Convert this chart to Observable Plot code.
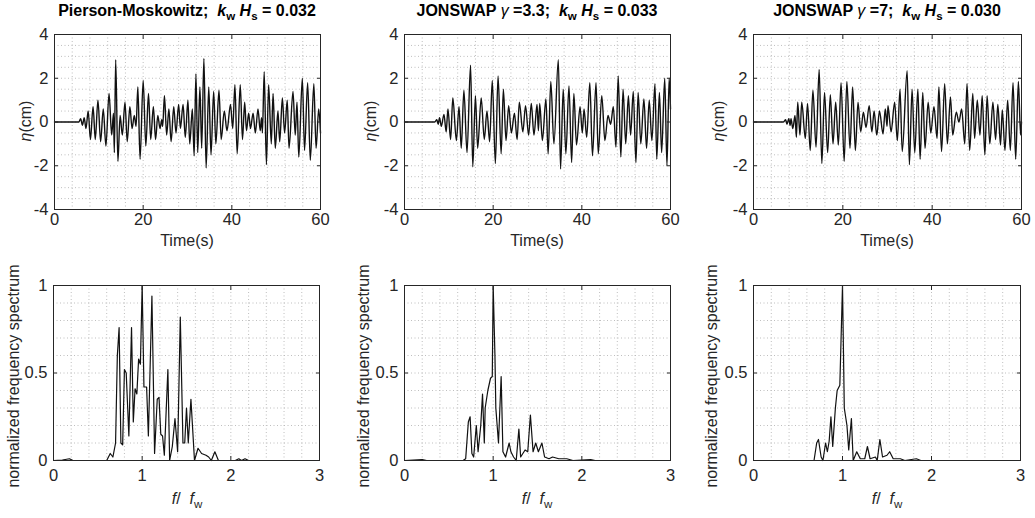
<!DOCTYPE html>
<html><head><meta charset="utf-8">
<script src="https://cdn.jsdelivr.net/npm/d3@7"></script>
<script src="https://cdn.jsdelivr.net/npm/@observablehq/plot@0.6"></script>
<style>
body{margin:0;background:#fff;font-family:"Liberation Sans",Arial,sans-serif;}
#wrap{position:relative;width:1035px;height:518px;overflow:hidden;background:#fff;}
#wrap svg text{font-size:16.5px !important;font-family:"Liberation Sans",Arial,sans-serif !important;fill:#262626;}
.p{position:absolute;}
.lbl{position:absolute;white-space:nowrap;color:#262626;line-height:1;}
.title{font-weight:bold;font-size:16px;color:#000;transform:translate(-50%,0);}
.xl{font-size:16px;transform:translate(-50%,-50%);}
.yl{font-size:16px;transform:translate(-50%,-50%) rotate(-90deg);}
sub{font-size:72%;vertical-align:-0.35em;line-height:0;}
</style></head>
<body><div id="wrap"></div>
<script>
// ---------- data ----------
const panelTitles = [
  'Pierson-Moskowitz;&nbsp; <i>k</i><sub>w</sub> <i>H</i><sub>s</sub> = 0.032',
  'JONSWAP <i style="font-weight:normal">&gamma;</i> =3.3;&nbsp; <i>k</i><sub>w</sub> <i>H</i><sub>s</sub> = 0.033',
  'JONSWAP <i style="font-weight:normal">&gamma;</i> =7;&nbsp; <i>k</i><sub>w</sub> <i>H</i><sub>s</sub> = 0.030'
];
const timeTicks = [0, 20, 40, 60];
const etaTicks = [-4, -2, 0, 2, 4];
const freqTicks = [0, 1, 2, 3];
const specTicks = [0, 0.5, 1];

// [t (s), eta (cm)] extrema of the surface elevation records
const waveIdx1 = [[0,0],[5.5,0],[5.9,0.15],[6.3,-0.15],[6.7,0.2],[7.1,-0.3],[7.6,0.5],[8.1,-0.8],[8.7,0.7],[9.2,-0.8],[9.8,1.0],[10.4,-0.9],[11.0,0.6],[11.6,-1.1],[12.3,1.3],[12.9,-0.6],[13.3,0.4],[13.5,-1.4],[13.8,2.85],[14.3,-1.8],[14.8,0.3],[15.3,-0.6],[15.9,0.9],[16.4,-0.9],[17.0,0.7],[17.5,-0.3],[18.0,0.3],[18.4,-0.2],[18.8,1.6],[19.3,-1.7],[20.0,1.9],[20.6,-1.1],[21.2,1.3],[21.7,-0.8],[22.3,0.7],[22.8,-0.8],[23.3,0.3],[23.8,-0.3],[24.2,0.1],[24.4,-0.2],[24.8,1.2],[25.3,-0.6],[25.8,0.6],[26.3,-0.9],[26.9,0.7],[27.4,-0.5],[28.0,0.8],[28.4,-0.3],[29.0,0.8],[29.5,-0.7],[30.1,1.0],[30.5,-1.0],[31.1,0.6],[31.5,-1.55],[31.9,2.2],[32.3,-1.4],[32.8,1.6],[33.2,-1.2],[33.7,2.9],[34.2,-2.1],[34.8,1.6],[35.3,-1.5],[35.9,1.4],[36.4,-1.0],[37.1,1.45],[37.6,-0.8],[38.3,0.5],[38.9,-0.4],[39.7,0.8],[40.2,-0.3],[40.7,1.7],[41.2,-1.45],[41.9,1.7],[42.4,-0.8],[42.9,0.9],[43.3,-0.4],[43.8,0.4],[44.2,-0.3],[44.8,0.4],[45.3,-0.5],[45.9,0.6],[46.4,-0.4],[46.7,0.2],[46.9,-0.5],[47.3,2.3],[47.8,-1.95],[48.3,1.7],[48.9,-1.0],[49.3,1.3],[49.8,-1.2],[50.4,0.5],[50.8,-0.9],[51.4,1.1],[51.9,-0.5],[52.5,1.0],[52.9,-1.2],[53.8,1.4],[54.3,-0.6],[54.7,0.9],[55.1,-1.6],[55.9,2.0],[56.4,-1.3],[57.1,1.8],[57.7,-1.75],[58.5,1.75],[59.0,-1.2],[59.6,0.6],[60.0,-0.5]];
const waveIdx2 = [[0,0],[6.8,0],[7.3,0.1],[7.6,-0.1],[7.9,0.2],[8.3,-0.2],[8.9,0.35],[9.4,-0.45],[9.8,0.6],[10.4,-0.8],[10.9,1.1],[11.7,-0.85],[12.3,0.7],[12.8,-1.2],[13.4,1.45],[14.1,-1.4],[14.9,2.6],[15.4,-2.05],[16.0,1.2],[16.5,-1.2],[17.3,1.1],[18.0,-0.8],[18.6,0.5],[19.2,-0.9],[19.8,1.9],[20.5,-1.9],[21.1,2.1],[21.8,-1.45],[22.3,1.5],[22.9,-0.85],[23.5,0.75],[24.1,-0.5],[24.8,0.4],[25.4,-0.8],[25.9,0.9],[26.7,-0.45],[27.3,0.75],[28.0,-0.6],[28.6,0.85],[29.2,-0.6],[29.9,0.8],[30.2,-0.4],[30.5,0.85],[31.1,-0.85],[31.9,1.05],[32.4,-1.45],[33.0,1.85],[33.7,-1.0],[34.7,2.85],[35.2,-2.15],[35.8,1.5],[36.4,-1.45],[37.1,1.65],[37.7,-1.85],[38.2,1.3],[38.8,-1.05],[39.6,0.7],[40.1,-0.5],[40.5,0.6],[41.1,-0.7],[41.8,1.8],[42.4,-1.55],[43.2,1.8],[43.7,-1.45],[44.5,1.2],[45.2,-0.85],[45.9,0.3],[46.5,-0.1],[47.1,0.7],[47.7,-1.15],[48.2,2.1],[48.8,-1.6],[49.3,1.5],[49.9,-1.0],[50.5,1.2],[51.0,-0.6],[51.6,1.4],[52.2,-1.85],[52.7,1.35],[53.3,-1.0],[54.0,1.05],[54.6,-1.2],[55.2,1.0],[55.8,-0.85],[56.5,1.75],[56.9,-1.7],[57.5,1.35],[58.0,-1.4],[58.7,2.0],[59.2,-2.0],[59.7,2.0],[60.0,0.6]];
const waveIdx3 = [[0,0],[6.7,0],[7.2,0.1],[7.5,-0.1],[7.9,0.15],[8.2,-0.15],[8.4,0.15],[8.8,-0.3],[9.3,0.3],[9.6,-0.7],[9.9,0.9],[10.4,-0.6],[10.8,0.9],[11.6,-0.75],[12.1,0.85],[12.7,-1.3],[13.3,1.45],[14.0,-1.15],[14.7,2.4],[15.3,-1.9],[15.9,1.35],[16.6,-1.4],[17.2,1.25],[17.8,-1.0],[18.4,0.9],[19.0,-1.05],[19.6,1.8],[20.3,-1.8],[20.9,1.85],[21.6,-1.2],[22.2,1.6],[22.8,-1.3],[23.4,0.9],[24.0,-0.45],[24.6,0.45],[25.2,-0.25],[25.9,0.75],[26.5,-0.45],[27.0,0.5],[27.6,-0.6],[28.2,0.5],[29.0,-0.55],[29.5,0.6],[29.9,-0.2],[30.1,0.75],[30.8,-0.45],[31.6,0.9],[32.2,-0.85],[32.8,1.5],[33.3,-1.35],[34.4,2.35],[34.9,-1.95],[35.5,1.5],[36.1,-1.4],[36.8,1.5],[37.3,-1.7],[37.9,1.35],[38.4,-1.2],[39.1,0.9],[39.7,-0.5],[40.4,0.7],[41.1,-0.75],[41.5,1.6],[42.1,-1.35],[42.8,1.75],[43.4,-1.0],[44.1,1.15],[44.6,-0.6],[45.4,0.45],[46.0,0.0],[46.6,0.6],[47.3,-1.0],[47.8,1.75],[48.4,-1.3],[49.1,1.3],[49.5,-0.75],[50.1,1.0],[50.7,-0.6],[51.2,1.2],[51.8,-1.5],[52.3,1.2],[52.9,-1.0],[53.6,0.9],[54.2,-0.8],[54.7,0.8],[55.3,-1.05],[55.7,0.55],[56.3,-1.3],[56.9,1.0],[57.5,-1.3],[58.1,1.8],[58.7,-1.7],[59.3,1.85],[59.8,-0.6],[60.0,0.0]];

// [f/fw, normalized spectrum]
const spec1 = [[0,0],[0.1,0.003],[0.18,0.01],[0.22,0],[0.6,0],[0.64,0.04],[0.67,0.02],[0.70,0.1],[0.72,0.6],[0.74,0.76],[0.76,0.1],[0.78,0.09],[0.80,0.52],[0.82,0.5],[0.85,0.14],[0.88,0.76],[0.90,0.22],[0.92,0.41],[0.94,0.38],[0.96,0.58],[0.98,0.55],[1.0,1.0],[1.02,0.42],[1.05,0.42],[1.07,0.14],[1.11,0.94],[1.14,0.04],[1.17,0.35],[1.19,0.36],[1.21,0.15],[1.23,0.14],[1.25,0.03],[1.29,0.52],[1.31,0.0],[1.34,0.08],[1.37,0.24],[1.40,0.05],[1.43,0.82],[1.46,0.1],[1.48,0.1],[1.50,0.3],[1.52,0.1],[1.55,0.35],[1.59,0.0],[1.63,0.07],[1.67,0.04],[1.72,0.03],[1.75,0.02],[1.78,0.0],[1.82,0.05],[1.86,0.0],[2.05,0],[2.09,0.01],[2.12,0],[2.16,0.01],[2.2,0],[3,0]];
const spec2 = [[0,0],[0.2,0.005],[0.25,0],[0.66,0],[0.69,0.01],[0.72,0.22],[0.74,0.25],[0.76,0.04],[0.78,0.02],[0.81,0.2],[0.83,0.05],[0.86,0.2],[0.88,0.38],[0.90,0.1],[0.91,0.3],[0.94,0.4],[0.97,0.47],[0.99,0.48],[1.0,1.0],[1.02,0.6],[1.03,0.3],[1.06,0.1],[1.09,0.48],[1.11,0.05],[1.14,0.02],[1.18,0.1],[1.20,0.05],[1.23,0.02],[1.26,0.0],[1.29,0.18],[1.31,0.02],[1.36,0.06],[1.39,0.05],[1.42,0.26],[1.45,0.05],[1.48,0.1],[1.51,0.05],[1.55,0.1],[1.58,0.02],[1.63,0.01],[1.67,0.02],[1.74,0.01],[1.83,0.01],[1.9,0],[2.1,0.005],[2.15,0],[3,0]];
const spec3 = [[0,0],[0.68,0],[0.71,0.1],[0.73,0.12],[0.76,0.02],[0.78,0.0],[0.81,0.1],[0.83,0.05],[0.85,0.11],[0.87,0.25],[0.89,0.08],[0.92,0.3],[0.94,0.4],[0.97,0.43],[1.0,1.0],[1.02,0.3],[1.05,0.2],[1.07,0.06],[1.10,0.24],[1.12,0.0],[1.16,0.05],[1.20,0.01],[1.25,0.01],[1.28,0.08],[1.31,0.01],[1.37,0.02],[1.39,0.0],[1.42,0.12],[1.45,0.02],[1.50,0.03],[1.53,0.05],[1.57,0.01],[1.65,0.01],[1.7,0],[1.83,0.01],[1.88,0],[3,0]];

const timeGrid = d3.range(0, 61, 4);
const etaGrid = d3.range(-4, 4.01, 0.5);
const freqGrid = d3.range(0, 3.01, 0.2);
const specGrid = d3.range(0, 1.01, 0.1);

// ---------- drawing ----------
const wrap = document.getElementById("wrap");
const FONT = '"Liberation Sans", Arial, sans-serif';
const fmt = d => String(d);

function panel(o) {
  const svg = Plot.plot({
    width: o.width, height: o.height,
    marginLeft: o.ml, marginRight: o.mr, marginTop: o.mt, marginBottom: o.mb,
    style: {fontSize: "16.5px", fontFamily: FONT, color: "#262626", background: "transparent", overflow: "visible"},
    x: {domain: o.xDomain},
    y: {domain: o.yDomain},
    marks: [
      Plot.ruleX(o.xGrid, {stroke: "#b8b8b8", strokeDasharray: "1,2.5", strokeWidth: 0.9}),
      Plot.ruleY(o.yGrid, {stroke: "#b8b8b8", strokeDasharray: "1,2.5", strokeWidth: 0.9}),
      Plot.line(o.data, {x: d => d[0], y: d => d[1], stroke: "#111", strokeWidth: o.sw, curve: o.curve}),
      Plot.axisX(o.xTicks, {anchor: "bottom", tickSize: -4, tickPadding: o.xpad, tickFormat: fmt, label: null, stroke: "#262626"}),
      Plot.axisX(o.xTicks, {anchor: "top", tickSize: -4, tickFormat: () => "", label: null, stroke: "#262626"}),
      Plot.axisY(o.yTicks, {anchor: "left", tickSize: -4, tickPadding: 10, tickFormat: fmt, label: null, stroke: "#262626"}),
      Plot.axisY(o.yTicks, {anchor: "right", tickSize: -4, tickFormat: () => "", label: null, stroke: "#262626"}),
      Plot.frame({stroke: "#262626", strokeWidth: 1})
    ]
  });
  svg.classList.add("p");
  svg.style.left = o.left + "px";
  svg.style.top = o.top + "px";
  wrap.appendChild(svg);
}
function label(cls, html, x, y) {
  const d = document.createElement("div");
  d.className = "lbl " + cls;
  d.innerHTML = html;
  d.style.left = x + "px";
  d.style.top = y + "px";
  wrap.appendChild(d);
}

const waves = [waveIdx1, waveIdx2, waveIdx3];
const specs = [spec1, spec2, spec3];
const lefts = [0, 350, 699];
const widths = [345, 345, 336];
const plotLeft = [54, 404, 753];
const plotRight = [320, 670, 1021];
const specLeft = [53, 404, 753];
const specRight = [319, 670, 1020];
const etaLabelX = [26, 371, 719];
const specLabelX = [14, 364, 712];

for (let i = 0; i < 3; i++) {
  const ml = plotLeft[i] - lefts[i];
  panel({data: waves[i], xDomain: [0, 60], yDomain: [-4, 4], xTicks: timeTicks, yTicks: etaTicks,
    xGrid: timeGrid, yGrid: etaGrid, left: lefts[i], top: 0, width: widths[i], height: 255,
    ml, mr: widths[i] - ml - (plotRight[i] - plotLeft[i]), mt: 34, mb: 46, curve: "monotone-x", sw: 1.4, xpad: 8});
  const mlb = specLeft[i] - lefts[i];
  panel({data: specs[i], xDomain: [0, 3], yDomain: [0, 1], xTicks: freqTicks, yTicks: specTicks,
    xGrid: freqGrid, yGrid: specGrid, left: lefts[i], top: 260, width: widths[i], height: 258,
    ml: mlb, mr: widths[i] - mlb - (specRight[i] - specLeft[i]), mt: 25, mb: 58, curve: "linear", sw: 1.2, xpad: 13});
  const cx = (plotLeft[i] + plotRight[i]) / 2;
  label("title", panelTitles[i], cx, 3);
  label("xl", "Time(s)", cx, 241);
  label("yl", "<i>&eta;</i>(cm)", etaLabelX[i], 121);
  label("yl", "normalized frequency spectrum", specLabelX[i], 376);
  label("xl", "<i>f</i>/&nbsp; <i>f</i><sub>w</sub>", cx, 499);
}
</script></body></html>
